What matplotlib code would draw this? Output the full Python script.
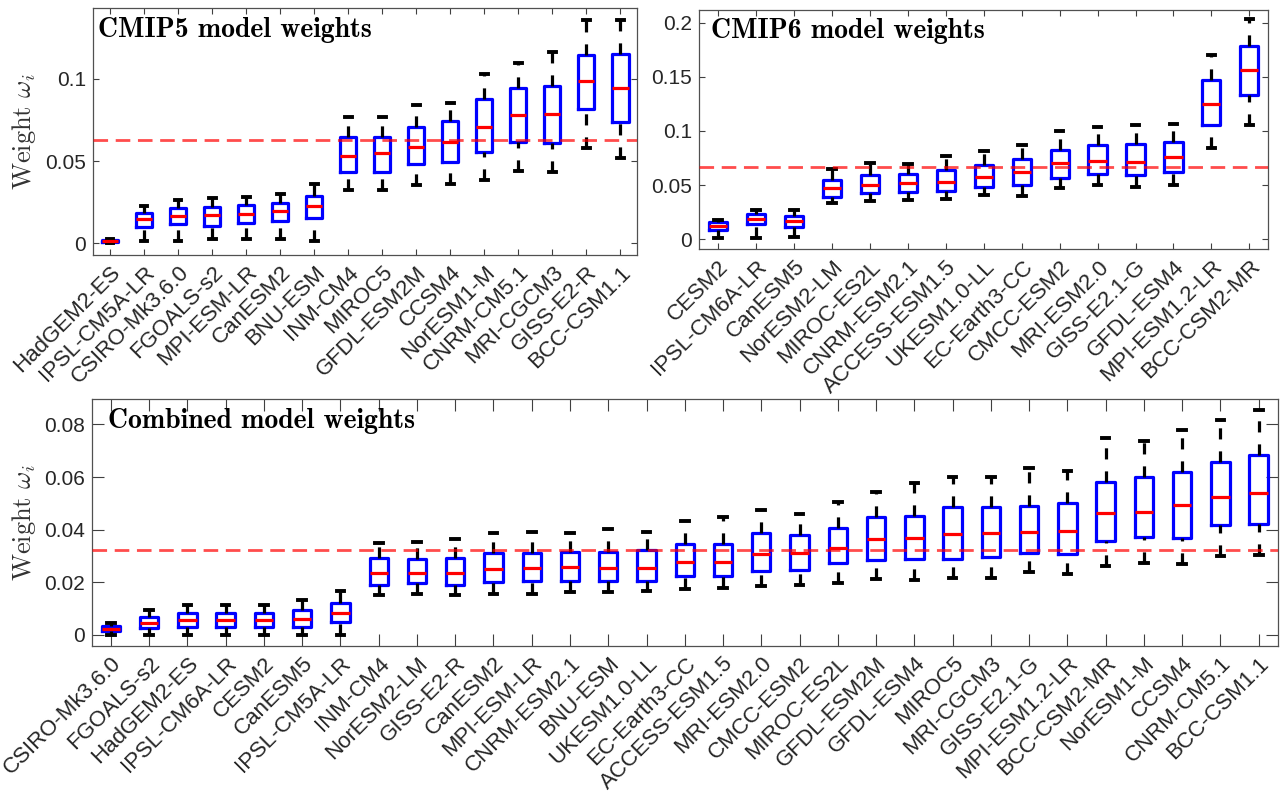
import matplotlib
matplotlib.use('Agg')
import matplotlib.pyplot as plt
from matplotlib.ticker import FuncFormatter

plt.rcParams['font.family'] = ['Liberation Sans', 'DejaVu Sans']
plt.rcParams['mathtext.fontset'] = 'cm'
plt.rcParams['lines.scale_dashes'] = False

# ---- CMIP5 ----
cmip5_models = ['HadGEM2-ES', 'IPSL-CM5A-LR', 'CSIRO-Mk3.6.0', 'FGOALS-s2', 'MPI-ESM-LR',
                'CanESM2', 'BNU-ESM', 'INM-CM4', 'MIROC5', 'GFDL-ESM2M', 'CCSM4',
                'NorESM1-M', 'CNRM-CM5.1', 'MRI-CGCM3', 'GISS-E2-R', 'BCC-CSM1.1']
cmip5_low = [0.0000, 0.0012, 0.0016, 0.0024, 0.0024, 0.0028, 0.0016, 0.0324, 0.0324,
             0.0354, 0.0360, 0.0385, 0.0441, 0.0431, 0.0581, 0.0520]
cmip5_q1 = [0.0007, 0.0101, 0.0117, 0.0107, 0.0126, 0.0138, 0.0152, 0.0431, 0.0435,
            0.0482, 0.0492, 0.0557, 0.0617, 0.0607, 0.0816, 0.0739]
cmip5_med = [0.0013, 0.0146, 0.0166, 0.0170, 0.0180, 0.0194, 0.0225, 0.0528, 0.0551,
             0.0587, 0.0613, 0.0709, 0.0777, 0.0783, 0.0986, 0.0943]
cmip5_q3 = [0.0020, 0.0186, 0.0215, 0.0219, 0.0231, 0.0247, 0.0287, 0.0644, 0.0648,
            0.0709, 0.0745, 0.0879, 0.0945, 0.0955, 0.1144, 0.1150]
cmip5_high = [0.0025, 0.0227, 0.0263, 0.0273, 0.0283, 0.0298, 0.0362, 0.0769, 0.0765,
              0.0840, 0.0854, 0.1032, 0.1097, 0.1164, 0.1356, 0.1356]

# ---- CMIP6 ----
cmip6_models = ['CESM2', 'IPSL-CM6A-LR', 'CanESM5', 'NorESM2-LM', 'MIROC-ES2L',
                'CNRM-ESM2.1', 'ACCESS-ESM1.5', 'UKESM1.0-LL', 'EC-Earth3-CC', 'CMCC-ESM2',
                'MRI-ESM2.0', 'GISS-E2.1-G', 'GFDL-ESM4', 'MPI-ESM1.2-LR', 'BCC-CSM2-MR']
cmip6_low = [0.0006, 0.0006, 0.0019, 0.0329, 0.0351, 0.0360, 0.0366, 0.0410, 0.0398,
             0.0469, 0.0497, 0.0481, 0.0503, 0.0845, 0.1056]
cmip6_q1 = [0.0081, 0.0140, 0.0115, 0.0388, 0.0422, 0.0432, 0.0447, 0.0484, 0.0500,
            0.0565, 0.0602, 0.0596, 0.0624, 0.1056, 0.1329]
cmip6_med = [0.0118, 0.0183, 0.0171, 0.0469, 0.0500, 0.0516, 0.0531, 0.0578, 0.0618,
             0.0708, 0.0724, 0.0714, 0.0755, 0.1252, 0.1565]
cmip6_q3 = [0.0155, 0.0227, 0.0217, 0.0550, 0.0593, 0.0606, 0.0640, 0.0689, 0.0739,
            0.0826, 0.0870, 0.0879, 0.0894, 0.1472, 0.1783]
cmip6_high = [0.0180, 0.0273, 0.0273, 0.0646, 0.0702, 0.0699, 0.0767, 0.0817, 0.0873,
              0.1003, 0.1040, 0.1059, 0.1062, 0.1702, 0.2034]

# ---- Combined ----
comb_models = ['CSIRO-Mk3.6.0', 'FGOALS-s2', 'HadGEM2-ES', 'IPSL-CM6A-LR', 'CESM2',
               'CanESM5', 'IPSL-CM5A-LR', 'INM-CM4', 'NorESM2-LM', 'GISS-E2-R', 'CanESM2',
               'MPI-ESM-LR', 'CNRM-ESM2.1', 'BNU-ESM', 'UKESM1.0-LL', 'EC-Earth3-CC',
               'ACCESS-ESM1.5', 'MRI-ESM2.0', 'CMCC-ESM2', 'MIROC-ES2L', 'GFDL-ESM2M',
               'GFDL-ESM4', 'MIROC5', 'MRI-CGCM3', 'GISS-E2.1-G', 'MPI-ESM1.2-LR',
               'BCC-CSM2-MR', 'NorESM1-M', 'CCSM4', 'CNRM-CM5.1', 'BCC-CSM1.1']
comb_low = [0.0001, 0.0000, 0.0000, 0.0000, 0.0000, 0.0000, 0.0000, 0.0153, 0.0157,
            0.0150, 0.0157, 0.0157, 0.0162, 0.0164, 0.0166, 0.0175, 0.0177, 0.0186,
            0.0190, 0.0199, 0.0211, 0.0210, 0.0218, 0.0217, 0.0239, 0.0233, 0.0261,
            0.0274, 0.0271, 0.0301, 0.0303]
comb_q1 = [0.0014, 0.0025, 0.0032, 0.0032, 0.0032, 0.0032, 0.0048, 0.0191, 0.0199,
           0.0189, 0.0203, 0.0204, 0.0206, 0.0206, 0.0206, 0.0224, 0.0224, 0.0245,
           0.0247, 0.0274, 0.0284, 0.0288, 0.0290, 0.0297, 0.0311, 0.0306, 0.0358,
           0.0373, 0.0368, 0.0418, 0.0422]
comb_med = [0.0024, 0.0047, 0.0056, 0.0057, 0.0056, 0.0061, 0.0082, 0.0236, 0.0236,
            0.0237, 0.0252, 0.0256, 0.0259, 0.0256, 0.0256, 0.0279, 0.0278, 0.0308,
            0.0313, 0.0332, 0.0363, 0.0368, 0.0385, 0.0386, 0.0391, 0.0397, 0.0465,
            0.0466, 0.0494, 0.0524, 0.0539]
comb_q3 = [0.0034, 0.0070, 0.0084, 0.0083, 0.0083, 0.0096, 0.0122, 0.0292, 0.0288,
           0.0294, 0.0310, 0.0312, 0.0316, 0.0317, 0.0322, 0.0346, 0.0346, 0.0389,
           0.0380, 0.0405, 0.0450, 0.0452, 0.0487, 0.0488, 0.0490, 0.0501, 0.0583,
           0.0599, 0.0619, 0.0657, 0.0683]
comb_high = [0.0046, 0.0096, 0.0112, 0.0112, 0.0112, 0.0134, 0.0167, 0.0350, 0.0353,
             0.0366, 0.0386, 0.0392, 0.0386, 0.0401, 0.0391, 0.0432, 0.0447, 0.0476,
             0.0461, 0.0506, 0.0545, 0.0577, 0.0600, 0.0600, 0.0634, 0.0625, 0.0749,
             0.0739, 0.0778, 0.0817, 0.0857]


def fmt(v, pos):
    return '%g' % round(v, 4)


def draw_panel(ax, models, low, q1, med, q3, high, title, title_x, ylim, yticks, ticklen, ylabel):
    n = len(models)
    pos = list(range(1, n + 1))
    stats = []
    for i in range(n):
        stats.append(dict(whislo=low[i], q1=q1[i], med=med[i], q3=q3[i], whishi=high[i], fliers=[]))
    res = ax.bxp(stats, positions=pos, widths=0.48, capwidths=0.2, showfliers=False,
                 boxprops=dict(color='blue', lw=2.3),
                 medianprops=dict(color='red', lw=2.3, solid_capstyle='butt'),
                 whiskerprops=dict(color='black', lw=2.3, linestyle=(0, (8, 8.6))),
                 capprops=dict(color='black', lw=2.8))
    # matlab draws the lower whisker from the bottom end upward
    for w in res['whiskers'][0::2]:
        w.set_ydata(w.get_ydata()[::-1])

    ax.axhline(1.0 / n, color='red', alpha=0.7, lw=2.0, linestyle=(0, (10.5, 5.5)), zorder=3)

    ax.set_xlim(0.5, n + 0.5)
    ax.set_ylim(*ylim)
    ax.set_xticks(pos)
    ax.set_xticklabels(models, rotation=45, ha='right', rotation_mode='anchor', fontsize=16)
    ax.set_yticks(yticks)
    ax.yaxis.set_major_formatter(FuncFormatter(fmt))
    ax.tick_params(direction='in', length=ticklen, width=0.8, top=True, right=True,
                   colors='#404040', labelcolor='#262626', pad=5)
    ax.tick_params(axis='y', labelsize=15)
    for s in ax.spines.values():
        s.set_color('#505050')
        s.set_linewidth(0.9)
    ax.text(title_x, 0.965, title, transform=ax.transAxes, family='cmb10', fontsize=20,
            va='top', ha='left')
    if ylabel:
        ax.set_ylabel(r'Weight $\omega_i$', family='cmr10', fontsize=19, color='#333333', va='center')


fig = plt.figure(figsize=(12.85, 8.01), dpi=100)
ax1 = fig.add_axes([0.0724, 0.6816, 0.4236, 0.3080])
ax2 = fig.add_axes([0.5442, 0.6888, 0.4428, 0.2987])
ax3 = fig.add_axes([0.0714, 0.1935, 0.9230, 0.3084])

draw_panel(ax1, cmip5_models, cmip5_low, cmip5_q1, cmip5_med, cmip5_q3, cmip5_high,
           'CMIP5 model weights', 0.010, (-0.0071, 0.1428), [0, 0.05, 0.1], 4, True)
draw_panel(ax2, cmip6_models, cmip6_low, cmip6_q1, cmip6_med, cmip6_q3, cmip6_high,
           'CMIP6 model weights', 0.020, (-0.0095, 0.212), [0, 0.05, 0.1, 0.15, 0.2], 4, False)
draw_panel(ax3, comb_models, comb_low, comb_q1, comb_med, comb_q3, comb_high,
           'Combined model weights', 0.014, (-0.0042, 0.0897), [0, 0.02, 0.04, 0.06, 0.08], 8.5, True)

ax1.yaxis.set_label_coords(-0.127, 0.5)
ax3.yaxis.set_label_coords(-0.057, 0.5)

fig.savefig('out.png', dpi=100)
